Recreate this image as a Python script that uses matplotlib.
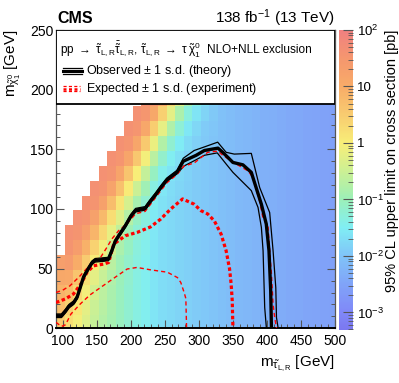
import numpy as np
import matplotlib

matplotlib.use("Agg")
import matplotlib.pyplot as plt
from matplotlib.colors import LinearSegmentedColormap, LogNorm
from matplotlib.lines import Line2D
from matplotlib.patches import Rectangle
from matplotlib.ticker import FixedLocator, FuncFormatter, MultipleLocator

plt.rcParams["font.family"] = ["Liberation Sans", "DejaVu Sans"]
plt.rcParams["mathtext.fontset"] = "custom"
plt.rcParams["mathtext.rm"] = "Liberation Sans"
plt.rcParams["mathtext.it"] = "Liberation Sans"
plt.rcParams["mathtext.bf"] = "Liberation Sans:bold"

# limit map: log10(95% CL upper limit [pb]) per stau-mass column, listed from m_chi = 0 upwards
limit_log10 = [
    [0.5, 0.7, 0.9, 1.1, 1.3],
    [0.22, 0.43, 0.72, 1.05, 1.37, 1.55, 1.62],
    [-0.05, 0.10, 0.32, 0.63, 0.99, 1.34, 1.55, 1.62],
    [-0.32, -0.23, -0.07, 0.18, 0.52, 0.92, 1.31, 1.55, 1.62],
    [-0.57, -0.51, -0.42, -0.24, 0.03, 0.41, 0.84, 1.27, 1.55, 1.62],
    [-0.74, -0.71, -0.66, -0.55, -0.37, -0.08, 0.32, 0.79, 1.24, 1.55, 1.62],
    [-0.9, -0.88, -0.86, -0.8, -0.69, -0.49, -0.19, 0.24, 0.73, 1.21, 1.55, 1.62],
    [-1.05, -1.05, -1.03, -1.01, -0.95, -0.83, -0.62, -0.29, 0.15, 0.68, 1.19, 1.54, 1.62],
    [-1.2, -1.2, -1.2, -1.18, -1.16, -1.09, -0.97, -0.75, -0.4, 0.07, 0.62, 1.16, 1.54, 1.62],
    [-1.35, -1.35, -1.35, -1.35, -1.33, -1.3, -1.24, -1.11, -0.87, -0.51, -0.01, 0.57, 1.13, 1.53, 1.62],
    [-1.45] * 5 + [-1.43, -1.4, -1.33, -1.2, -0.96, -0.58, -0.07, 0.53, 1.11, 1.52, 1.62],
    [-1.6] * 6 + [-1.58, -1.55, -1.48, -1.34, -1.09, -0.69, -0.15, 0.47, 1.08, 1.52],
    [-1.7] * 7 + [-1.68, -1.65, -1.57, -1.43, -1.17, -0.77, -0.21, 0.44, 1.06],
    [-1.75] * 8 + [-1.73, -1.7, -1.62, -1.47, -1.21, -0.8, -0.24, 0.42],
    [-1.8] * 9 + [-1.78, -1.75, -1.67, -1.52, -1.25, -0.84, -0.27],
    [-1.85] * 10 + [-1.83, -1.8, -1.72, -1.57, -1.3, -0.87],
    [-1.9] * 11 + [-1.88, -1.85, -1.77, -1.61, -1.34],
    [-1.95] * 12 + [-1.93, -1.9, -1.81, -1.66],
    [-2.0] * 13 + [-1.98, -1.94, -1.86],
    [-2.05] * 14 + [-2.03, -1.99],
    [-2.1] * 15 + [-2.08],
    [-2.15] * 16,
    [-2.2] * 16,
    [-2.25] * 16,
    [-2.3] * 16,
    [-2.33] * 16,
    [-2.36] * 16,
    [-2.4] * 16,
    [-2.43] * 16,
    [-2.46] * 16,
    [-2.5] * 16,
    [-2.53] * 16,
    [-2.55] * 16,
]

# exclusion contours (m_stau, m_chi) in GeV
obs_m = [90, 98, 104, 109, 116, 121, 125.5, 130.5, 137.5, 143, 147.5, 167, 172, 177, 185, 192, 200, 207,
         221, 228, 237, 244, 253, 268, 277, 296, 308, 328, 335, 350, 364.7, 377, 391.8, 399, 403, 405.5, 406.6]
obs_chi = [10.5, 10.5, 14.5, 18.5, 21.5, 26, 34, 43, 50, 55, 57, 58, 65, 73, 80, 86, 94, 99,
           100.5, 106, 112.5, 118, 124.5, 131, 140, 145, 149, 151, 147.5, 139, 137, 130.7, 104, 87.4, 65, 31.5, 0]

obs_up_m = [90, 98, 104, 109, 116, 121, 125.5, 130.5, 137.5, 143, 147.5, 167, 172, 177, 185, 192, 200, 207,
            221, 228, 237, 244, 253, 268, 277, 293, 308, 327.6, 340, 352, 377, 389.3, 404, 409, 413, 414, 416.5]
obs_up_chi = [12, 12, 16, 20, 23, 27.5, 35.5, 44.5, 51.5, 56.5, 58.5, 59.5, 66.5, 74.5, 81.5, 87.5, 95.5, 100.5,
              102, 107.5, 114, 119.5, 126, 132.5, 142.5, 149, 152, 156, 147.5, 146, 146.6, 118, 97, 65, 34, 9, 0]

obs_dn_m = [90, 98, 104, 109, 116, 121, 125.5, 130.5, 137.5, 143, 147.5, 167, 172, 177, 185, 192, 200, 207,
            221, 228, 237, 244, 253, 268, 278, 295, 308, 327, 340, 350, 377, 386.9, 391.8, 394.3, 396.7, 399.2]
obs_dn_chi = [9, 9, 13, 17, 20, 24.5, 32.5, 41.5, 48.5, 53.5, 55.5, 56.5, 63.5, 71.5, 78.5, 84.5, 92.5, 97.5,
              99, 104.5, 111, 116.5, 123, 129.5, 136, 141, 145, 147, 137.7, 130.7, 115.4, 101.3, 84.6, 65, 17.4, 0]

exp_m = [90, 103.3, 115.6, 128, 135.4, 145.2, 160, 167.4, 174.8, 192, 209.4, 229, 243.8, 258.6, 276, 293, 303,
         313, 322.7, 332.6, 340, 345, 347.4, 349, 350]
exp_chi = [21.6, 24.5, 28.7, 38.4, 46.8, 52.4, 53.8, 55.2, 70.6, 77.6, 80.4, 85, 91.5, 100, 108.4, 104, 98.6,
           95.8, 90, 79, 65, 50, 37, 23, 0]

exp_up_m = [90, 100, 110.7, 125.5, 135, 145, 155, 165, 172, 182, 195, 207, 221, 237, 253, 268, 278, 293, 313,
            328, 335, 354.8, 372, 379.5, 389, 394, 401.7, 404, 406.6, 409, 411.4, 414]
exp_up_chi = [30, 32, 35.7, 44, 50, 55.5, 59, 68, 74.8, 81.8, 88, 96, 98, 110, 122, 129, 136, 138.5, 147.5,
              148.5, 145, 137.7, 132, 126.5, 107, 93, 84.6, 65, 45.5, 20, 9, 0]

exp_dn_m = [90, 98, 104, 112, 125.5, 140, 155, 175, 194.6, 209, 229, 253.7, 268.5, 273.4, 278.3, 280.8, 281.9]
exp_dn_chi = [5, 1.5, 3, 12, 20.3, 28, 34, 42, 49.7, 51, 49, 47, 42.5, 38.4, 30, 25, 0]

cbar_ticks = [1e-3, 1e-2, 1e-1, 1, 10, 100]
cbar_labels = ["$10^{-3}$", "$10^{-2}$", "$10^{-1}$", "1", "10", "$10^{2}$"]

# bin edges of the map
stau_edges = np.concatenate([[90], np.arange(103, 504, 12.5)])
chi_edges = np.arange(-1.25, 199, 12.5)

grid = np.full((len(chi_edges) - 1, len(stau_edges) - 1), np.nan)
for i, col in enumerate(limit_log10):
    grid[: len(col), i] = col
limits = np.ma.masked_invalid(10.0 ** grid)

palette = LinearSegmentedColormap.from_list(
    "pastel_rainbow",
    [
        (0.0, "#7b78f0"),
        ((3.31 - 3.0) / 5.31, "#8088f8"),
        ((3.31 - 2.5) / 5.31, "#80a4f8"),
        ((3.31 - 2.0) / 5.31, "#80c4f8"),
        ((3.31 - 1.5) / 5.31, "#80eef4"),
        ((3.31 - 1.0) / 5.31, "#9cf0b8"),
        ((3.31 - 0.5) / 5.31, "#ccf094"),
        ((3.31 + 0.0) / 5.31, "#f8ee78"),
        ((3.31 + 0.5) / 5.31, "#f8cc70"),
        ((3.31 + 1.0) / 5.31, "#f8ac68"),
        ((3.31 + 1.5) / 5.31, "#f5976e"),
        (1.0, "#f08080"),
    ],
)

W, H = 399, 383
fig = plt.figure(figsize=(W / 100, H / 100), dpi=100)
ax = fig.add_axes([56 / W, 1 - 328.3 / H, (335 - 56) / W, (328.3 - 30) / H])
cax = fig.add_axes([338.5 / W, 1 - 330 / H, 14 / W, 300 / H])

mesh = ax.pcolormesh(stau_edges, chi_edges, limits, cmap=palette,
                     norm=LogNorm(vmin=10 ** -3.31, vmax=100), zorder=1)

ax.plot(obs_up_m, obs_up_chi, color="black", lw=0.9, zorder=3)
ax.plot(obs_dn_m, obs_dn_chi, color="black", lw=0.9, zorder=3)
ax.plot(exp_up_m, exp_up_chi, color="red", lw=1.0, ls=(0, (3, 2.2)), zorder=3)
ax.plot(exp_dn_m, exp_dn_chi, color="red", lw=1.0, ls=(0, (3, 2.2)), zorder=3)
ax.plot(exp_m, exp_chi, color="red", lw=2.3, ls=(0, (1.1, 0.8)), dash_capstyle="butt", zorder=3)
ax.plot(obs_m, obs_chi, color="black", lw=2.4, zorder=4)

ax.set_xlim(90, 500)
ax.set_ylim(0, 250)
ax.xaxis.set_major_locator(MultipleLocator(50))
ax.xaxis.set_minor_locator(MultipleLocator(10))
ax.yaxis.set_major_locator(MultipleLocator(50))
ax.yaxis.set_minor_locator(MultipleLocator(10))
ax.tick_params(which="both", direction="in", top=True, right=True, color="#555555", labelsize=10)
ax.tick_params(which="major", length=6, width=0.8)
ax.tick_params(which="minor", length=3, width=0.7)
ax.tick_params(axis="x", pad=4)
ax.tick_params(axis="y", pad=2)
for side in ["left", "right", "top"]:
    ax.spines[side].set_color("#555555")
    ax.spines[side].set_linewidth(0.9)
ax.spines["bottom"].set_linewidth(1.4)

ax.set_xlabel(r"m$_{\tilde{\tau}_{\mathrm{L,R}}}$ [GeV]", fontsize=11, loc="right")
ax.xaxis.set_label_coords(1.0, -0.085)
ax.set_ylabel(r"m$_{\tilde{\chi}^{0}_{1}}$ [GeV]", fontsize=11, loc="top")
ax.yaxis.set_label_coords(-0.12, 1.0)

# legend box
ax.add_patch(Rectangle((0, 0.752), 1, 0.248, transform=ax.transAxes, facecolor="white",
                       edgecolor="black", lw=1.3, zorder=5))
fig.text(60 / W, 1 - 50 / H,
         r"pp $\rightarrow$ $\tilde{\tau}_{\mathrm{L,R}}\bar{\tilde{\tau}}_{\mathrm{L,R}}$, "
         r"$\tilde{\tau}_{\mathrm{L,R}}$ $\rightarrow$ $\tau\,\tilde{\chi}^{0}_{1}$",
         fontsize=8.5, va="center", ha="left", zorder=6)
fig.text(207 / W, 1 - 50 / H, "NLO+NLL exclusion", fontsize=8.5, va="center", ha="left")
fig.text(86 / W, 1 - 71 / H, r"Observed $\pm$ 1 s.d. (theory)", fontsize=9, va="center", ha="left")
fig.text(86 / W, 1 - 89 / H, r"Expected $\pm$ 1 s.d. (experiment)", fontsize=9, va="center", ha="left")
for yy, lw in [(67.8, 0.9), (70.8, 2.2), (73.8, 0.9)]:
    fig.add_artist(Line2D([63 / W, 82 / W], [1 - yy / H] * 2, color="black", lw=lw))
for yy, lw in [(86.3, 0.9), (88.8, 1.8), (91.3, 0.9)]:
    fig.add_artist(Line2D([63 / W, 80 / W], [1 - yy / H] * 2, color="red", lw=lw,
                          ls=(0, (2.5, 1.8)) if lw < 1 else (0, (1.2, 1.0))))

fig.text(57 / W, 1 - 23 / H, "CMS", fontsize=11.5, fontweight="bold", ha="left", va="baseline")
fig.text(335 / W, 1 - 23 / H, r"138 fb$^{-1}$ (13 TeV)", fontsize=11, ha="right", va="baseline")

cb = fig.colorbar(mesh, cax=cax)
cb.outline.set_visible(False)
cax.yaxis.set_major_locator(FixedLocator(cbar_ticks))
cax.yaxis.set_major_formatter(FuncFormatter(lambda v, p: cbar_labels[cbar_ticks.index(v)] if v in cbar_ticks else ""))
cax.yaxis.set_minor_locator(FixedLocator([m * d for d in [1e-4, 1e-3, 1e-2, 1e-1, 1, 10] for m in range(2, 10)]))
cax.yaxis.set_minor_formatter(FuncFormatter(lambda v, p: ""))
cax.tick_params(which="both", direction="in", right=True, left=False, color="#555555", labelsize=9.5, pad=3)
cax.tick_params(which="major", length=7, width=0.8)
cax.tick_params(which="minor", length=3.5, width=0.6)
cb.set_label("95% CL upper limit on cross section [pb]", fontsize=10.5, loc="top")
cax.yaxis.set_label_coords(3.3, 1.0)

fig.savefig("out.png", dpi=100)
